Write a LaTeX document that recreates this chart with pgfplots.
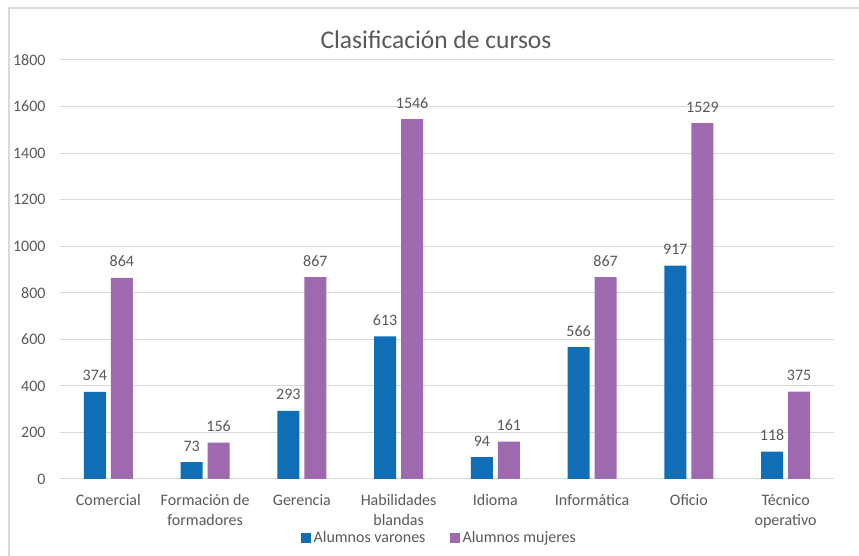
\documentclass[border=0pt]{standalone}
\usepackage{pgfplots}
\pgfplotsset{compat=1.18}
\usepackage{fontspec}
\setmainfont{Carlito}
\definecolor{varon}{HTML}{106EB6}
\definecolor{mujer}{HTML}{9E69AE}
\definecolor{txt}{HTML}{595959}
\definecolor{gridc}{HTML}{D9D9D9}

\begin{document}
\begin{tikzpicture}[x=1pt,y=1pt]
\path[use as bounding box] (0,0) rectangle (859,556);
\draw[gridc, line width=1.2pt] (9,0) -- (9,548) -- (859,548);
\node[txt, font=\fontsize{25.5}{30}\selectfont] at (436,516) {Clasificación de cursos};
\begin{axis}[
    at={(60pt,77pt)}, anchor=south west,
    scale only axis, width=774pt, height=419pt,
    ybar=5pt, bar width=22pt,
    xmin=-0.5, xmax=7.5, ymin=0, ymax=1800,
    ytick={0,200,...,1800},
    xtick={0,...,7},
    xticklabels={Comercial, {Formación de\\formadores}, Gerencia, {Habilidades\\blandas}, Idioma, Informática, Oficio, {Técnico\\operativo}},
    /pgf/number format/.cd, 1000 sep={}, assume math mode=true, /pgfplots/.cd,
    scaled y ticks=false,
    axis line style={draw=none},
    major tick length=0pt,
    ymajorgrids=true,
    grid style={gridc, line width=1pt},
    tick label style={txt, font=\fontsize{16}{20}\selectfont},
    yticklabel style={xshift=-11pt},
    xticklabel style={align=center, yshift=-12pt},
    nodes near coords,
    nodes near coords style={txt, font=\fontsize{16}{19}\selectfont, anchor=base, yshift=11pt},
    clip=false,
    legend style={at={(axis description cs:0.49,-0.141)}, anchor=center, draw=none, fill=none,
        legend columns=2, font=\fontsize{16}{19}\selectfont, text=txt, inner sep=0pt,
        /tikz/every even column/.append style={column sep=22pt},
        /tikz/every odd column/.append style={column sep=1pt}},
    legend image code/.code={\fill[#1, draw=none] (0pt,-5pt) rectangle (10pt,5pt);},
]
\addplot[fill=varon, draw=none] coordinates {
    (0,374) (1,73) (2,293) (3,613) (4,94) (5,566) (6,917) (7,118)
};
\addplot[fill=mujer, draw=none] coordinates {
    (0,864) (1,156) (2,867) (3,1546) (4,161) (5,867) (6,1529) (7,375)
};
\legend{Alumnos varones, Alumnos mujeres}
\end{axis}
\end{tikzpicture}
\end{document}
